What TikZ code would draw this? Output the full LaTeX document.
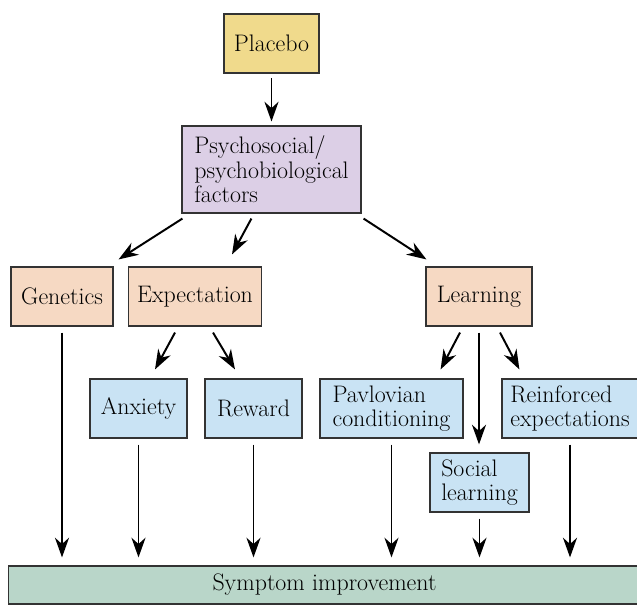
\documentclass[tikz,border=0pt]{standalone}
\usepackage{fontspec}
\usepackage{tikz}
\usetikzlibrary{arrows.meta,calc}
\definecolor{placebofill}{HTML}{F0DA8C}
\definecolor{factorfill}{HTML}{DCCFE6}
\definecolor{peachfill}{HTML}{F6D9C3}
\definecolor{bluefill}{HTML}{C9E3F4}
\definecolor{greenfill}{HTML}{B9D6C9}
\definecolor{edgegray}{HTML}{333333}

\begin{document}
\begin{tikzpicture}[x=0.025cm,y=-0.025cm,
    box/.style={draw=edgegray,line width=0.8pt,inner xsep=6pt,
      font=\fontsize{17}{17.5}\selectfont,align=left,minimum height=1.475cm},
    arr/.style={-{Stealth[length=14pt,width=10pt,inset=4.5pt]},line width=1.4pt,black},
    down/.style={arr,shorten <=4.3pt,shorten >=5.7pt}]
  \clip (0,0) rectangle (637,605);
  % boxes
  \node[box,fill=placebofill,minimum width=2.375cm] (plac) at (271.5,43.5) {Placebo};
  \node[box,fill=factorfill,minimum width=4.475cm,minimum height=2.175cm] (psy) at (271.5,169.5)
    {Psychosocial/\\psychobiological\\factors};
  \node[box,fill=peachfill,minimum width=2.55cm] (gen) at (62,296.5) {Genetics};
  \node[box,fill=peachfill,minimum width=3.3cm] (expc) at (195,296.5) {Expectation};
  \node[box,fill=peachfill,minimum width=2.65cm] (lea) at (479,296.5) {Learning};
  \node[box,fill=bluefill,minimum width=2.425cm] (anx) at (138.5,408.5) {Anxiety};
  \node[box,fill=bluefill,minimum width=2.425cm] (rew) at (253.5,408.5) {Reward};
  \node[box,fill=bluefill,minimum width=3.575cm] (pav) at (391.5,408.5) {Pavlovian\\conditioning};
  \node[box,fill=bluefill,minimum width=3.4cm] (rei) at (570,408.5) {Reinforced\\expectations};
  \node[box,fill=bluefill,minimum width=2.475cm] (soc) at (479.5,482.5) {Social\\learning};
  \node[box,fill=greenfill,minimum width=15.775cm,minimum height=0.95cm] (sym) at (324.5,585)
    {Symptom improvement};
  % arrows
  \draw[arr,shorten <=3.5pt,shorten >=2.8pt] (plac) -- (psy);
  \draw[arr] ([shift={(1,5)}]psy.south west) -- ([shift={(5,-7)}]gen.north east);
  \draw[arr] ([shift={(70,5)}]psy.south west) -- ([shift={(37,-12)}]expc.north);
  \draw[arr] ([shift={(2,5)}]psy.south east) -- ([shift={(1,-7)}]lea.north west);
  \draw[arr] ([shift={(-20,6)}]expc.south) -- ([shift={(16.5,-9)}]anx.north);
  \draw[arr] ([shift={(18,6)}]expc.south) -- ([shift={(-18.5,-9)}]rew.north);
  \draw[arr] ([shift={(-19,6)}]lea.south) -- ([shift={(-23,-9)}]pav.north east);
  \draw[arr] ([shift={(21,6)}]lea.south) -- ([shift={(18,-9)}]rei.north west);
  \draw[down] (lea.south) -- (lea.south |- soc.north);
  \foreach \n in {gen,anx,rew,pav,soc,rei}
    \draw[down] (\n.south) -- (\n.south |- sym.north);
\end{tikzpicture}
\end{document}
